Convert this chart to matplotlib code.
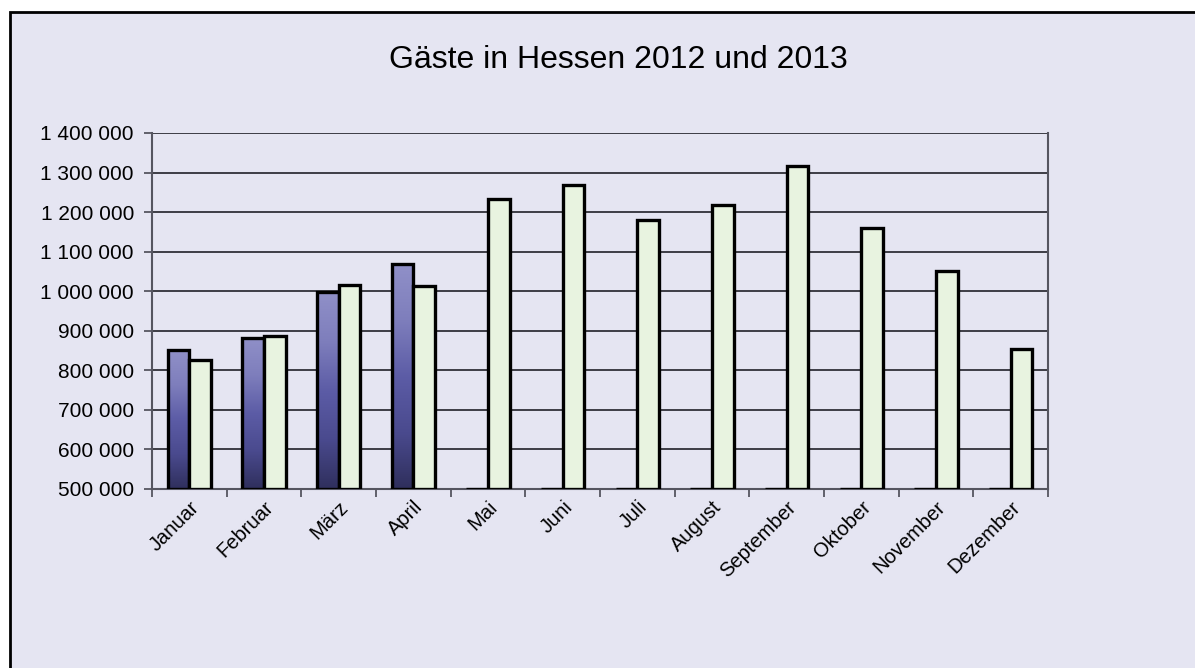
import numpy as np
import matplotlib
matplotlib.use("Agg")
import matplotlib.pyplot as plt
from matplotlib.patches import Rectangle
from matplotlib.colors import LinearSegmentedColormap
from matplotlib.ticker import FuncFormatter, MultipleLocator, FixedLocator

plt.rcParams['font.family'] = ['Liberation Sans', 'DejaVu Sans']

months = ["Januar", "Februar", "März", "April", "Mai", "Juni", "Juli",
          "August", "September", "Oktober", "November", "Dezember"]
gaeste_2013 = [851000, 883000, 997000, 1068000, 0, 0, 0, 0, 0, 0, 0, 0]
gaeste_2012 = [826000, 887000, 1016000, 1013000, 1234000, 1268000,
               1180000, 1219000, 1316000, 1159000, 1052000, 853000]

y_min = 500000
y_max = 1400000

bg = "#E5E5F2"
green = "#E8F3E0"
grad = LinearSegmentedColormap.from_list(
    "g13", ["#2F2F5C", "#4A4A8E", "#5C5CA6", "#7E7EBC", "#9090C8"])

fig = plt.figure(figsize=(11.95, 6.68), dpi=100, facecolor="white")
fig.patches.append(Rectangle((10 / 1195, -0.1), 1.2, 1 - 12 / 668 + 0.1,
                             transform=fig.transFigure, facecolor=bg,
                             edgecolor="black", linewidth=2, zorder=-5))

ax = fig.add_axes([152 / 1195, 1 - 489 / 668, 896 / 1195, 356 / 668])
ax.set_facecolor(bg)

x = np.arange(len(months))
w = 0.29

# 2013 bars with vertical gradient
h13 = [max(v - y_min, 0) for v in gaeste_2013]
bars13 = ax.bar(x - w / 2, h13, w, bottom=y_min, facecolor="none",
                edgecolor="black", linewidth=2.4, zorder=4)
gimg = np.linspace(1, 0, 256).reshape(-1, 1)
for b, v in zip(bars13, gaeste_2013):
    if v <= y_min:
        continue
    x0, y0 = b.get_x(), b.get_y()
    im = ax.imshow(gimg, cmap=grad, aspect="auto", zorder=3,
                   extent=[x0, x0 + b.get_width(), y0, y0 + b.get_height()])
    im.set_clip_path(b)

h12 = [max(v - y_min, 0) for v in gaeste_2012]
ax.bar(x + w / 2, h12, w, bottom=y_min, facecolor=green,
       edgecolor="black", linewidth=2.4, zorder=4)

ax.set_xlim(-0.5, len(months) - 0.5)
ax.set_ylim(y_min, y_max)

ax.yaxis.set_major_locator(MultipleLocator(100000))
ax.yaxis.set_major_formatter(FuncFormatter(lambda v, p: f"{int(v):,}".replace(",", " ")))
ax.grid(axis="y", color="#303038", linewidth=1.3, zorder=1)

ax.set_xticks(x)
ax.set_xticklabels(months, rotation=45, ha="right", va="top",
                   rotation_mode="anchor", fontsize=14.5)
ax.tick_params(axis="x", which="major", length=0, pad=6)
ax.xaxis.set_minor_locator(FixedLocator(np.arange(-0.5, len(months), 1)))
ax.tick_params(axis="x", which="minor", length=6, width=1.3, color="#555560")
ax.tick_params(axis="y", length=6, width=1.3, color="#555560", labelsize=15, pad=7)

for s in ["left", "bottom", "right"]:
    ax.spines[s].set_color("#555560")
    ax.spines[s].set_linewidth(1.5)
ax.spines["top"].set_visible(False)

fig.text(618 / 1195, 1 - 60 / 668, "Gäste in Hessen 2012 und 2013",
         ha="center", va="center", fontsize=23)

fig.savefig("out.png", dpi=100, facecolor="white")
